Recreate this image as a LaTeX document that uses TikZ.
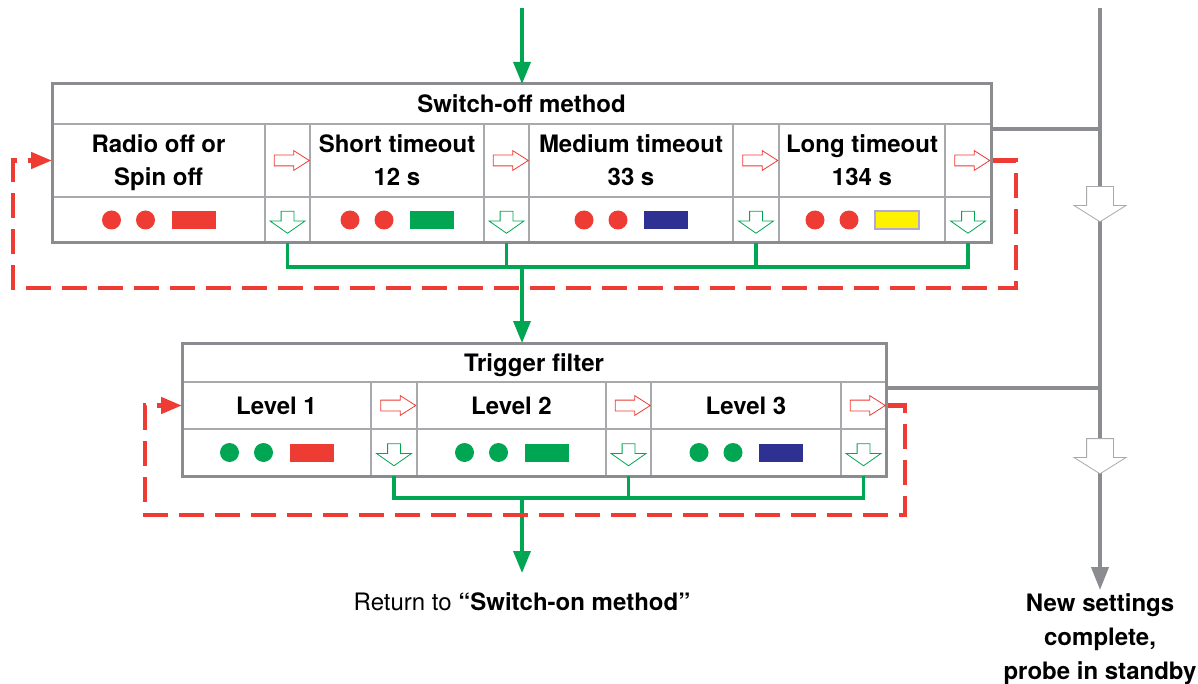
\documentclass[tikz,border=0pt]{standalone}
\usepackage{fontspec}
\setmainfont{TeX Gyre Heros}
\usetikzlibrary{positioning,shapes.arrows,arrows.meta,fit}

\definecolor{frameg}{HTML}{8A8C8F}
\definecolor{lineg}{HTML}{A7A9AC}
\definecolor{lred}{HTML}{EE3B33}
\definecolor{lgreen}{HTML}{00A651}
\definecolor{lblue}{HTML}{2E3192}
\definecolor{lyellow}{HTML}{FFF200}
\definecolor{ledge}{HTML}{AFA9D6}

% two lamps and a bar in a cell
\newcommand{\lamps}[3]{%
  \fill[#2] ([xshift=-47pt]#1.center) circle (9.5pt);
  \fill[#2] ([xshift=-13pt]#1.center) circle (9.5pt);
  \fill[#3] ([xshift=13pt,yshift=-9pt]#1.center) rectangle ++(44pt,18pt);}

\begin{document}
\begin{tikzpicture}[x=1pt, y=-1pt, node distance=0pt,
    cell/.style={draw=lineg, line width=1.2pt, inner sep=0pt, outer sep=0pt, anchor=north west, align=center, text depth=0pt, font=\bfseries\fontsize{24}{33}\selectfont},
    titlecell/.style={cell, minimum height=40pt},
    txtcell/.style={cell, minimum height=73pt},
    lampcell/.style={cell, minimum height=46pt},
    frame/.style={draw=frameg, line width=3pt, inner sep=0pt},
    rarrow/.style={single arrow, draw=lred, fill=white, line width=0.8pt, inner sep=5pt, minimum height=35pt, single arrow head extend=4.5pt, single arrow tip angle=65},
    darrow/.style={single arrow, draw=lgreen, fill=white, line width=0.8pt, shape border rotate=270, inner sep=6pt, minimum height=22pt, single arrow head extend=11pt, single arrow tip angle=110},
    garrow/.style={single arrow, draw=lineg, fill=white, line width=0.8pt, shape border rotate=270, inner sep=13pt, minimum height=33pt, single arrow head extend=12.5pt, single arrow tip angle=116},
    flow/.style={draw=lgreen, line width=3.5pt},
    redloop/.style={draw=lred, line width=4.5pt, dash pattern=on 25pt off 11pt},
    gline/.style={draw=frameg, line width=4pt},
    note/.style={inner sep=0pt, align=center, font=\fontsize{24}{34}\selectfont}]
    \useasboundingbox (0,0) rectangle (1198,684);

    % switch-off method
    \node[titlecell, minimum width=939pt] (swtitle) at (52,84) {Switch-off method};
    \node[txtcell, minimum width=213pt] (radio) at (52,124) {Radio off or\\Spin off};
    \node[txtcell, minimum width=45pt, right=of radio] (sg1) {};
    \node[txtcell, minimum width=174pt, right=of sg1] (short) {Short timeout\\12 s};
    \node[txtcell, minimum width=45pt, right=of short] (sg2) {};
    \node[txtcell, minimum width=204pt, right=of sg2] (medium) {Medium timeout\\33 s};
    \node[txtcell, minimum width=46pt, right=of medium] (sg3) {};
    \node[txtcell, minimum width=166pt, right=of sg3] (long) {Long timeout\\134 s};
    \node[txtcell, minimum width=46pt, right=of long] (sg4) {};
    \foreach \n/\w in {radio/213,sg1/45,short/174,sg2/45,medium/204,sg3/46,long/166,sg4/46}
      \node[lampcell, minimum width=\w pt, below=of \n] (\n-l) {};
    \node[frame, fit=(swtitle)(sg4-l)] (swbox) {};

    \lamps{radio-l}{lred}{lred}
    \lamps{short-l}{lred}{lgreen}
    \lamps{medium-l}{lred}{lblue}
    \lamps{long-l}{lred}{lyellow, draw=ledge, line width=1.5pt}
    \foreach \i in {1,...,4} {
      \node[rarrow] (ra\i) at (sg\i) {};
      \node[darrow] (da\i) at (sg\i-l) {};
    }

    % trigger filter
    \node[titlecell, minimum width=704pt, minimum height=39pt] (tftitle) at (182,343) {Trigger filter};
    \node[txtcell, minimum width=189pt, minimum height=47pt] (lvl1) at (182,382) {Level 1};
    \node[txtcell, minimum width=46pt, minimum height=47pt, right=of lvl1] (tg1) {};
    \node[txtcell, minimum width=189pt, minimum height=47pt, right=of tg1] (lvl2) {Level 2};
    \node[txtcell, minimum width=45pt, minimum height=47pt, right=of lvl2] (tg2) {};
    \node[txtcell, minimum width=190pt, minimum height=47pt, right=of tg2] (lvl3) {Level 3};
    \node[txtcell, minimum width=45pt, minimum height=47pt, right=of lvl3] (tg3) {};
    \foreach \n/\w in {lvl1/189,tg1/46,lvl2/189,tg2/45,lvl3/190,tg3/45}
      \node[lampcell, minimum width=\w pt, minimum height=47pt, below=of \n] (\n-l) {};
    \node[frame, fit=(tftitle)(tg3-l)] (tfbox) {};

    \lamps{lvl1-l}{lgreen}{lred}
    \lamps{lvl2-l}{lgreen}{lgreen}
    \lamps{lvl3-l}{lgreen}{lblue}
    \foreach \i in {1,...,3} {
      \node[rarrow] (tra\i) at (tg\i) {};
      \node[darrow] (tda\i) at (tg\i-l) {};
    }

    % green flow
    \coordinate (swin) at (522,8);
    \coordinate (swjoin) at (522,267);
    \coordinate (tfjoin) at (522,498);
    \coordinate (tend) at (522,573);
    \draw[flow, -{Triangle[length=22pt,width=17pt]}] (swin) -- (swtitle.north -| swin);
    \draw[flow] (sg1-l.south) |- (sg4-l.south |- swjoin) -- (sg4-l.south);
    \draw[flow] (sg2-l.south) -- (sg2-l.south |- swjoin);
    \draw[flow] (sg3-l.south) -- (sg3-l.south |- swjoin);
    \draw[flow, -{Triangle[length=22pt,width=17pt]}] (swjoin) -- (tftitle.north -| swjoin);
    \draw[flow] (tg1-l.south) |- (tg3-l.south |- tfjoin) -- (tg3-l.south);
    \draw[flow] (tg2-l.south) -- (tg2-l.south |- tfjoin);
    \draw[flow, -{Triangle[length=22pt,width=17pt]}] (tfjoin) -- (tend);
    \node[note, below=19pt of tend] (ret) {Return to \textbf{“Switch-on method”}};

    % red loops back to the first step
    \coordinate (swloopR) at (1016,288);
    \coordinate (swloopL) at (13,288);
    \coordinate (tfloopR) at (905,515);
    \coordinate (tfloopL) at (145,515);
    \draw[redloop, -{Triangle[length=21pt,width=16pt]}] (ra4 -| swbox.east) -| (swloopR) -- (swloopL) |- (radio.west |- ra4);
    \draw[redloop, -{Triangle[length=21pt,width=16pt]}] (tra3 -| tfbox.east) -| (tfloopR) -- (tfloopL) |- (lvl1.west |- tra3);

    % grey path to standby
    \coordinate (gtop) at (1100,8);
    \coordinate (gend) at (1100,590);
    \draw[gline] ([yshift=-5pt]sg4.north east) -- ([yshift=-5pt]sg4.north east -| gtop);
    \draw[gline] ([yshift=-6pt]tg3.north east) -- ([yshift=-6pt]tg3.north east -| gtop);
    \draw[gline, -{Triangle[length=23pt,width=17pt]}] (gtop) -- (gend);
    \node[garrow] (gdown1) at (1100,200) {};
    \node[garrow] (gdown2) at (1100,452) {};
    \node[note, font=\bfseries\fontsize{24}{34}\selectfont, below=3pt of gend] (newset) {New settings\\complete,\\probe in standby};
  \end{tikzpicture}
\end{document}
